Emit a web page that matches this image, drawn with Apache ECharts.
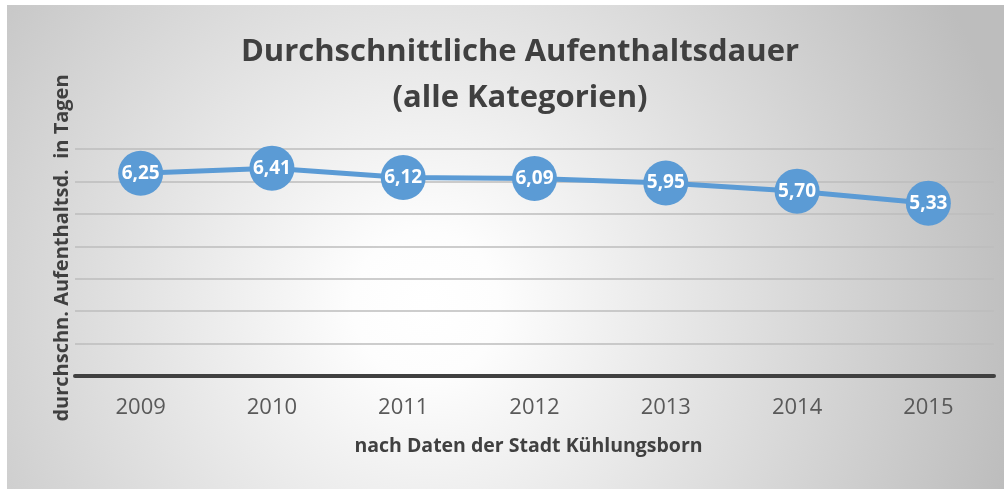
<!DOCTYPE html>
<html>
<head>
<meta charset="utf-8">
<script src="https://cdn.jsdelivr.net/npm/echarts@6/dist/echarts.min.js"></script>
<style>
    html, body { margin: 0; padding: 0; background: #ffffff; }
    #main { position: absolute; left: 7px; top: 5px; width: 997px; height: 484px; }
</style>
</head>
<body>
<div id="main"></div>
<script>
    // Jahre (Kategorien) und Werte
    var years = ['2009', '2010', '2011', '2012', '2013', '2014', '2015'];
    var stayDays = [6.25, 6.41, 6.12, 6.09, 5.95, 5.70, 5.33];

    var titleText = 'Durchschnittliche Aufenthaltsdauer\n(alle Kategorien)';
    var yName = 'durchschn. Aufenthaltsd.  in Tagen';
    var xName = 'nach Daten der Stadt Kühlungsborn';

    var font = '"Open Sans", "Noto Sans", sans-serif';

    var myChart = echarts.init(document.getElementById('main'));

    var option = {
        backgroundColor: {
            type: 'radial',
            x: 0.42,
            y: 0.62,
            r: 1.25,
            colorStops: [
                {offset: 0, color: '#ffffff'},
                {offset: 0.12, color: '#fdfdfd'},
                {offset: 1, color: '#bdbdbd'}
            ]
        },
        animation: false,
        title: {
            text: titleText,
            left: 508,
            top: 19,
            textAlign: 'center',
            textStyle: {
                fontFamily: font,
                fontSize: 31,
                fontWeight: 'bold',
                color: '#404040',
                lineHeight: 46
            }
        },
        grid: {
            left: 68,
            right: 10,
            top: 144,
            bottom: 113
        },
        graphic: [
            {
                type: 'text',
                x: 55,
                y: 243,
                rotation: Math.PI / 2,
                style: {
                    text: yName,
                    fontFamily: font,
                    fontSize: 20,
                    fontWeight: 'bold',
                    fill: '#404040',
                    align: 'center',
                    verticalAlign: 'middle'
                }
            }
        ],
        xAxis: {
            type: 'category',
            data: years,
            boundaryGap: true,
            name: xName,
            nameLocation: 'middle',
            nameGap: 60,
            nameTextStyle: {
                fontFamily: font,
                fontSize: 19.5,
                fontWeight: 'bold',
                color: '#404040',
                padding: [0, 12, 0, 0]
            },
            axisLine: {lineStyle: {color: '#404040', width: 4}},
            axisTick: {show: false},
            axisLabel: {
                margin: 21,
                fontFamily: font,
                fontSize: 22,
                color: '#595959'
            }
        },
        yAxis: {
            type: 'value',
            min: 0,
            max: 7,
            interval: 1,
            axisLine: {show: false},
            axisTick: {show: false},
            axisLabel: {show: false},
            splitLine: {lineStyle: {color: '#bcbcbc', width: 1.5}}
        },
        series: [
            {
                type: 'line',
                data: stayDays,
                symbol: 'circle',
                symbolSize: 45,
                lineStyle: {color: '#5B9BD5', width: 5},
                itemStyle: {color: '#5B9BD5'},
                label: {
                    show: true,
                    position: 'inside',
                    fontFamily: font,
                    fontSize: 19,
                    fontWeight: 'bold',
                    color: '#ffffff',
                    formatter: function (p) {
                        return p.value.toFixed(2).replace('.', ',');
                    }
                }
            }
        ]
    };

    myChart.setOption(option);
</script>
</body>
</html>
